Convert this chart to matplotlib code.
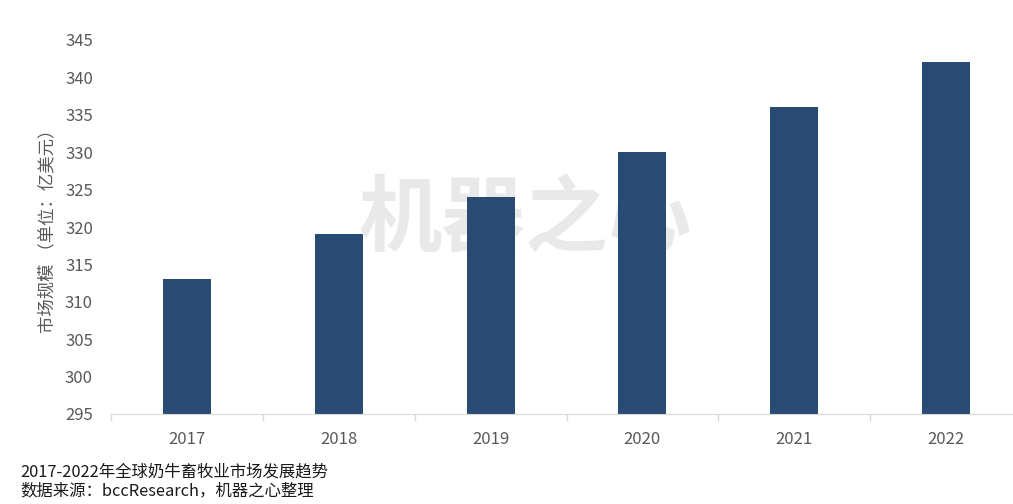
import matplotlib
matplotlib.use("Agg")
import matplotlib.pyplot as plt
import numpy as np

plt.rcParams['font.family'] = ['Noto Sans CJK SC', 'DejaVu Sans']

years = ['2017', '2018', '2019', '2020', '2021', '2022']
values = [313, 319, 324, 330, 336, 342]
yticks = [295, 300, 305, 310, 315, 320, 325, 330, 335, 340, 345]

fig = plt.figure(figsize=(10.13, 5.04), dpi=100)
ax = fig.add_axes([111/1013, 1-414/504, (1022-111)/1013, (414-40)/504])

x = np.arange(len(years))
ax.bar(x, values, width=0.316, color='#294B73', zorder=3)

ax.set_xlim(-0.5, len(years)-0.5)
ax.set_ylim(295, 345)
ax.set_yticks(yticks)
ax.set_yticklabels([str(v) for v in yticks], fontsize=12, color='#595959')
ax.set_xticks(x)
ax.set_xticklabels(years, fontsize=12, color='#595959')
ax.set_xticks(np.arange(-0.5, len(years)), minor=True)
ax.tick_params(axis='x', which='major', length=0, pad=12)
ax.tick_params(axis='x', which='minor', length=5, color='#D9D9D9', width=1)
ax.tick_params(axis='y', length=0, pad=13)

for s in ['top', 'right', 'left']:
    ax.spines[s].set_visible(False)
ax.spines['bottom'].set_color('#D9D9D9')
ax.spines['bottom'].set_zorder(4)

ax.set_ylabel('市场规模 （单位：亿美元）', fontsize=12.5, color='#595959', labelpad=6)

ax.text(525/1013, 1-220/504, '机器之心', fontsize=60, fontweight='bold', color='#E9E9E9',
        ha='center', va='center', zorder=1, transform=fig.transFigure)

fig.text(20/1013, 1-472/504, '2017-2022年全球奶牛畜牧业市场发展趋势', fontsize=11.8, color='#1a1a1a',
         ha='left', va='center')
fig.text(20/1013, 1-491/504, '数据来源：bccResearch，机器之心整理', fontsize=11.8, color='#1a1a1a',
         ha='left', va='center')

fig.savefig('out.png', dpi=100)
